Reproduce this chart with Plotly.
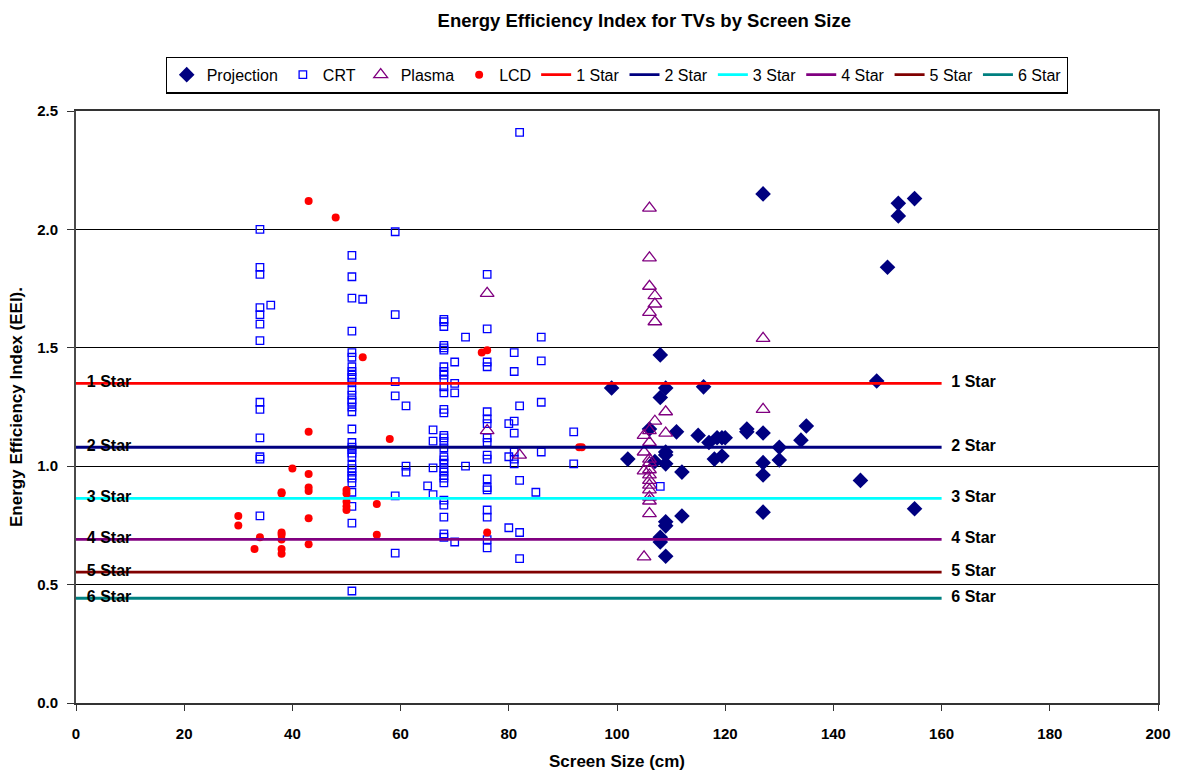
import plotly.graph_objects as go

# --- Projection TVs: screen size (cm), EEI
proj_size = [99, 102, 106, 107, 108, 108, 108, 108, 109, 109, 109, 109, 109, 109, 109,
             111, 112, 112, 115, 116, 117, 118, 118.5, 119.4, 119.4, 120, 124, 124,
             127, 127, 127, 127, 127, 130, 130, 134, 135, 145, 148, 150, 152, 152, 155, 155]
proj_eei = [1.33, 1.03, 1.157, 1.02, 1.47, 1.29, 0.70, 0.68, 1.33, 1.06, 1.047, 1.01, 0.765, 0.748, 0.62,
            1.145, 0.975, 0.79, 1.13, 1.335, 1.10, 1.03, 1.12, 1.12, 1.043, 1.12, 1.157, 1.145,
            2.15, 1.14, 1.015, 0.963, 0.806, 1.08, 1.026, 1.11, 1.17, 0.94, 1.36, 1.84, 2.11, 2.057, 2.13, 0.82]

# --- CRT TVs
crt_size = ([34] * 13 + [36] + [51] * 33 + [53] + [59] * 6 + [61] * 3 + [65] + [66] * 4
            + [68] * 31 + [70] * 4 + [72] * 2 + [76] * 18 + [80] * 3 + [81] * 7 + [82] * 5
            + [85] + [86] * 4 + [92] * 2 + [108])
crt_eei = [
    # 34 cm
    2.00, 1.84, 1.81, 1.67, 1.64, 1.60, 1.53, 1.27, 1.24, 1.12, 1.04, 1.03, 0.79,
    # 36 cm
    1.68,
    # 51 cm
    1.89, 1.80, 1.71, 1.57, 1.48, 1.46, 1.42, 1.40, 1.385, 1.375, 1.355, 1.32, 1.30, 1.28,
    1.27, 1.25, 1.23, 1.157, 1.10, 1.08, 1.07, 1.055, 1.04, 1.005, 0.99, 0.975, 0.96, 0.95,
    0.93, 0.89, 0.83, 0.76, 0.473,
    # 53 cm
    1.705,
    # 59 cm
    1.99, 1.64, 1.357, 1.297, 0.875, 0.633,
    # 61 cm
    1.255, 1.00, 0.975,
    # 65 cm
    0.917,
    # 66 cm
    1.153, 1.106, 0.993, 0.88,
    # 68 cm
    1.62, 1.61, 1.59, 1.51, 1.50, 1.49, 1.42, 1.40, 1.385, 1.365, 1.335, 1.31, 1.24, 1.225,
    1.13, 1.12, 1.105, 1.077, 1.04, 1.027, 1.013, 0.99, 0.975, 0.96, 0.95, 0.93, 0.857,
    0.836, 0.785, 0.714, 0.70,
    # 70 cm
    1.44, 1.35, 1.31, 0.68,
    # 72 cm
    1.545, 1.00,
    # 76 cm
    1.81, 1.58, 1.44, 1.42, 1.23, 1.20, 1.18, 1.12, 1.10, 1.047, 1.03, 0.946, 0.91, 0.90,
    0.815, 0.785, 0.69, 0.655,
    # 80 cm
    1.18, 1.04, 0.74,
    # 81 cm
    1.48, 1.40, 1.19, 1.14, 1.06, 1.03, 1.01,
    # 82 cm
    2.41, 1.255, 0.94, 0.72, 0.61,
    # 85 cm
    0.89,
    # 86 cm
    1.545, 1.445, 1.27, 1.06,
    # 92 cm
    1.145, 1.01,
    # 108 cm
    0.915,
]

# --- Plasma TVs
plasma_size = ([76] * 2 + [82] + [105] * 4 + [106] * 16 + [107] * 4 + [109] * 2 + [127] * 2)
plasma_eei = [1.73, 1.15,
              1.047,
              1.13, 1.06, 0.98, 0.617,
              2.09, 1.88, 1.76, 1.65, 1.15, 1.10, 1.03, 1.015, 0.985, 0.963, 0.94, 0.92, 0.90,
              0.87, 0.853, 0.80,
              1.72, 1.685, 1.61, 1.19,
              1.23, 1.14,
              1.54, 1.24]

# --- LCD TVs
lcd_size = [30, 30, 33, 34, 38, 38, 38, 38, 38, 38, 38, 40, 43, 43, 43, 43, 43, 43, 43,
            48, 50, 50, 50, 50, 50, 53, 55.6, 55.6, 58, 75, 76, 76, 93, 93.5]
lcd_eei = [0.79, 0.75, 0.65, 0.70, 0.89, 0.885, 0.72, 0.71, 0.69, 0.65, 0.63, 0.99, 2.12,
           1.145, 0.967, 0.91, 0.895, 0.78, 0.67, 2.05, 0.90, 0.885, 0.85, 0.83, 0.815, 1.46,
           0.84, 0.71, 1.115, 1.48, 1.49, 0.72, 1.08, 1.08]

# --- Star rating thresholds (each step is 0.8 of the previous one)
star_names = ["1 Star", "2 Star", "3 Star", "4 Star", "5 Star", "6 Star"]
star_eei = [1.35, 1.08, 0.864, 0.6912, 0.553, 0.4424]
star_colors = ["#FF0000", "#000080", "#00FFFF", "#800080", "#800000", "#008080"]
star_span = [0, 160]
label_x = [2.0, 161.8]

FONT = "Arial, Liberation Sans, sans-serif"

fig = go.Figure()

fig.add_trace(go.Scatter(
    x=proj_size, y=proj_eei, mode="markers", name="Projection",
    marker=dict(symbol="diamond", size=12, color="#000080"),
))
fig.add_trace(go.Scatter(
    x=crt_size, y=crt_eei, mode="markers", name="CRT",
    marker=dict(symbol="square-open", size=7.5, color="#0000FF", line=dict(width=1.3)),
))
fig.add_trace(go.Scatter(
    x=plasma_size, y=plasma_eei, mode="markers", name="Plasma",
    marker=dict(symbol="triangle-up-open", size=12, color="#800080", line=dict(width=1.3)),
))
fig.add_trace(go.Scatter(
    x=lcd_size, y=lcd_eei, mode="markers", name="LCD",
    marker=dict(symbol="circle", size=8, color="#FF0000"),
))

for name, val, col in zip(star_names, star_eei, star_colors):
    fig.add_trace(go.Scatter(
        x=star_span, y=[val, val], mode="lines", name=name,
        line=dict(color=col, width=2.8),
    ))

# Star labels at both ends of each threshold line
for name, val in zip(star_names, star_eei):
    fig.add_trace(go.Scatter(
        x=label_x, y=[val, val], mode="text", text=[name, name],
        textposition="middle right", showlegend=False, hoverinfo="skip",
        textfont=dict(family=FONT, size=16, color="black", weight="bold"),
    ))

fig.update_layout(
    width=1180, height=771,
    margin=dict(l=76, r=22, t=111, b=68),
    paper_bgcolor="white", plot_bgcolor="white",
    font=dict(family=FONT, color="black"),
    title=dict(
        text="<b>Energy Efficiency Index for TVs by Screen Size</b>",
        x=0.546, xanchor="center", y=0.974, yanchor="middle",
        font=dict(family=FONT, size=18.5, color="black"),
    ),
    legend=dict(
        orientation="h", x=0.5, xanchor="center", y=1.092, yanchor="top",
        bordercolor="black", borderwidth=1.2, bgcolor="white",
        font=dict(family=FONT, size=16, color="black"),
        itemwidth=30, tracegroupgap=0,
    ),
    showlegend=True,
)

fig.update_xaxes(
    range=[0, 200], tickmode="linear", tick0=0, dtick=20, automargin=False,
    showgrid=False, zeroline=False,
    showline=True, linecolor="#333333", linewidth=2, mirror=True,
    ticks="outside", ticklen=6, tickcolor="#333333", ticklabelstandoff=10,
    tickfont=dict(family=FONT, size=15, color="black", weight="bold"),
    title=dict(text="<b>Screen Size (cm)</b>", standoff=14,
               font=dict(family=FONT, size=17, color="black")),
)
fig.update_yaxes(
    range=[0, 2.5], tickmode="linear", tick0=0, dtick=0.5, tickformat=".1f", automargin=False,
    showgrid=True, gridcolor="black", gridwidth=1, zeroline=False,
    showline=True, linecolor="#4a4a4a", linewidth=2, mirror=True,
    ticks="outside", ticklen=7, tickcolor="#333333", ticklabelstandoff=6,
    tickfont=dict(family=FONT, size=15, color="black", weight="bold"),
    title=dict(text="<b>Energy Efficiency Index (EEI).</b>", standoff=10,
               font=dict(family=FONT, size=17, color="black")),
)

fig.write_html("out.html")
